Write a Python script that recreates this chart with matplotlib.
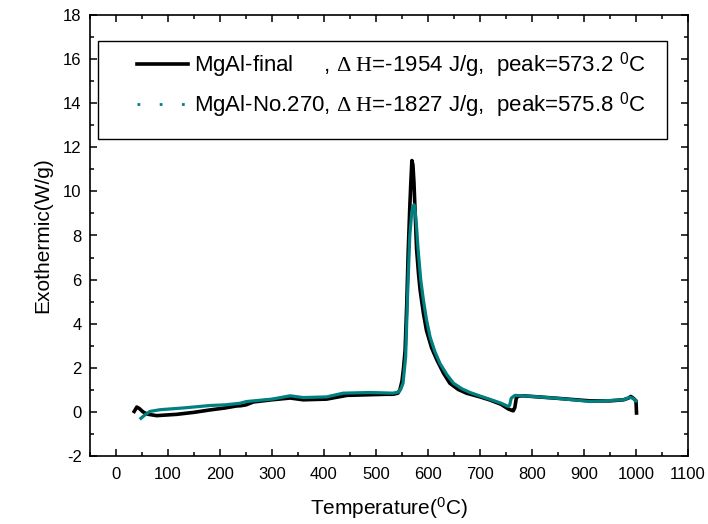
import matplotlib
matplotlib.use("Agg")
import matplotlib.pyplot as plt
from matplotlib.lines import Line2D
from matplotlib.patches import Rectangle
from matplotlib.ticker import MultipleLocator

plt.rcParams['font.family'] = ['Liberation Sans', 'DejaVu Sans']
plt.rcParams['mathtext.fontset'] = 'custom'
plt.rcParams['mathtext.rm'] = 'Liberation Serif'
plt.rcParams['mathtext.it'] = 'Liberation Serif:italic'
plt.rcParams['mathtext.bf'] = 'Liberation Serif:bold'
plt.rcParams['mathtext.sf'] = 'Liberation Sans'
plt.rcParams['axes.unicode_minus'] = False

# ---- data ----
t_final = [35, 40, 45, 52, 60, 78, 117, 150, 181, 210, 232, 240, 250, 264, 300, 335, 360,
           405, 444, 488, 520, 533, 542, 546, 550, 553, 556, 559, 562, 565, 567, 569, 571,
           573, 576, 578, 582, 585, 591, 597, 607, 617, 630, 642, 658, 674, 700, 719, 740,
           754, 760, 764, 767, 770, 775, 783, 847, 912, 950, 976, 985, 990, 995, 1000, 1001]
v_final = [0.02, 0.22, 0.15, 0.0, -0.1, -0.17, -0.11, -0.02, 0.09, 0.18, 0.27, 0.28, 0.32,
           0.45, 0.55, 0.63, 0.55, 0.58, 0.75, 0.78, 0.8, 0.8, 0.85, 1.0, 1.4, 2.0, 2.8, 4.8,
           7.3, 9.3, 10.4, 11.4, 11.2, 10.4, 8.6, 7.4, 6.2, 5.5, 4.5, 3.7, 2.9, 2.36, 1.75,
           1.3, 1.02, 0.85, 0.68, 0.54, 0.35, 0.14, 0.08, 0.05, 0.2, 0.65, 0.72, 0.73, 0.62,
           0.5, 0.5, 0.55, 0.62, 0.7, 0.62, 0.5, -0.05]

t_270 = [48, 55, 65, 85, 130, 181, 210, 238, 251, 300, 335, 360, 405, 437, 488, 533, 543,
         548, 552, 557, 561, 565, 569, 571, 573, 575, 578, 581, 586, 591, 597, 604, 613, 623,
         636, 649, 665, 681, 700, 719, 740, 754, 757, 760, 767, 783, 847, 912, 976, 988,
         994, 1000]
v_270 = [-0.29, -0.15, 0.02, 0.1, 0.18, 0.29, 0.32, 0.39, 0.47, 0.58, 0.73, 0.65, 0.68,
         0.85, 0.88, 0.85, 0.9, 1.05, 1.3, 2.5, 5.5, 8.0, 9.1, 9.3, 9.4, 9.2, 8.4, 7.35, 6.0,
         5.1, 4.2, 3.4, 2.75, 2.2, 1.7, 1.3, 1.05, 0.88, 0.72, 0.57, 0.4, 0.25, 0.3, 0.62,
         0.75, 0.73, 0.62, 0.47, 0.55, 0.66, 0.62, 0.5]

label_final = r"MgAl-final     , $\mathrm{\Delta\ H}$=-1954 J/g,  peak=573.2 $^{\mathsf{0}}$C"
label_270 = r"MgAl-No.270, $\mathrm{\Delta\ H}$=-1827 J/g,  peak=575.8 $^{\mathsf{0}}$C"

x_ticks = list(range(0, 1101, 100))
y_ticks = list(range(-2, 19, 2))

teal = '#008080'

fig = plt.figure(figsize=(7.08, 5.24), dpi=100)
ax = fig.add_axes([90/708, 68/524, 598/708, 441/524])

ax.plot(t_final, v_final, color='black', lw=2.6, solid_joinstyle='round', zorder=3)
ax.plot(t_270, v_270, color=teal, lw=2.3, solid_joinstyle='round', zorder=4)

ax.set_xlim(-50, 1100)
ax.set_ylim(-2, 18)
ax.set_xticks(x_ticks)
ax.set_yticks(y_ticks)
ax.xaxis.set_minor_locator(MultipleLocator(50))
ax.yaxis.set_minor_locator(MultipleLocator(1))
ax.tick_params(which='both', direction='in', top=True, right=True, width=1.1, labelsize=12)
ax.tick_params(which='major', length=5)
ax.tick_params(which='minor', length=3)
ax.tick_params(axis='x', pad=8)
ax.tick_params(axis='y', pad=6)
for s in ax.spines.values():
    s.set_linewidth(1.2)

ax.set_xlabel(r"Temperature($^{\mathsf{0}}$C)", fontsize=15, labelpad=10)
ax.set_ylabel("Exothermic(W/g)", fontsize=15, labelpad=8)

# legend frame
ax.add_patch(Rectangle((0.013, 0.719), 0.952, 0.222, transform=ax.transAxes,
                       fill=False, edgecolor='black', lw=1.0, zorder=5))
handles = [Line2D([], [], color='black', lw=2.6),
           Line2D([], [], color=teal, lw=2.0, linestyle=(0, (1, 7)))]
leg = ax.legend(handles, [label_final, label_270], loc='upper left',
                bbox_to_anchor=(0.078, 0.92), frameon=False, fontsize=16,
                handlelength=2.3, handletextpad=0.3, borderpad=0, borderaxespad=0,
                labelspacing=0.5)

fig.savefig('out.png', dpi=100)
